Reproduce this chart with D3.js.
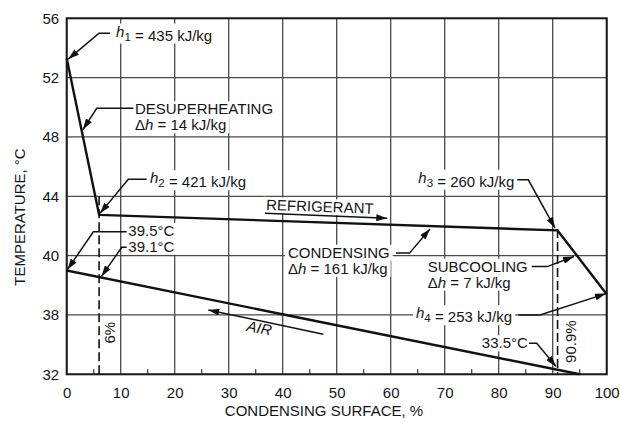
<!DOCTYPE html>
<html>
<head>
<meta charset="utf-8">
<script src="https://cdn.jsdelivr.net/npm/d3@7"></script>
<style>
  body { margin: 0; background: #fff; }
  svg text { font-family: "Liberation Sans", Arial, sans-serif; font-size: 15px; fill: #151515; }
</style>
</head>
<body>
<script>
const width = 620;
const height = 422;

// axis values
const xTicks = [0, 10, 20, 30, 40, 50, 60, 70, 80, 90, 100];
const xMinor = [5, 15, 25, 35, 45, 55, 65, 75, 85, 95];
const yTicks = [32, 38, 40, 44, 48, 52, 56];

// refrigerant temperature path (surface %, °C)
const refrigerant = [[0, 53.3], [6, 42.75], [90.9, 41.7], [100, 38.7]];
// air temperature path
const air = [[0, 39.5], [40.6, 38], [95, 32]];

// dashed markers at 6% and 90.9%
const markers = [
    { x: 6, y0: 44, y1: 32, label: "6%", lx: 9.0, ly: 36.2 },
    { x: 90.9, y0: 41.8, y1: 32, label: "90.9%", lx: 94.4, ly: 35.3 }
];

// callouts: text lines, anchor, leader (last point gets the arrowhead)
const callouts = [
    { x: 9.15, y: 54.77, lines: [[["h", "i"], ["1", "s"], [" = 435 kJ/kg"]]],
      leader: [[8.0, 55.0], [5.98, 55.0], [0.3, 53.25]] },
    { x: 12.65, y: 49.53, lines: [[["DESUPERHEATING"]], [["Δ"], ["h", "i"], [" = 14 kJ/kg"]]],
      leader: [[12.33, 49.93], [5.56, 49.93], [3.0, 48.5]] },
    { x: 15.43, y: 44.88, lines: [[["h", "i"], ["2", "s"], [" = 421 kJ/kg"]]],
      leader: [[14.81, 45.15], [11.41, 45.15], [6.17, 42.85]] },
    { x: 11.41, y: 41.34, lines: [[["39.5°C"]]],
      leader: [[11.11, 41.61], [4.93, 41.61], [0.15, 39.53]] },
    { x: 11.41, y: 40.26, lines: [[["39.1°C"]]],
      leader: [[11.11, 40.56], [10.19, 40.56], [6.44, 39.3]] },
    { x: 40.98, y: 39.93, lines: [[["CONDENSING"]], [["Δ"], ["h", "i"], [" = 161 kJ/kg"]]],
      leader: [[60.98, 40.17], [63.48, 40.17], [67.28, 41.8]] },
    { x: 82.9, y: 44.92, anchor: "end", lines: [[["h", "i"], ["3", "s"], [" = 260 kJ/kg"]]],
      leader: [[83.44, 45.11], [85.48, 45.11], [90.43, 41.86]] },
    { x: 66.85, y: 39.46, lines: [[["SUBCOOLING"]], [["Δ"], ["h", "i"], [" = 7 kJ/kg"]]],
      leader: [[86.11, 39.63], [89.0, 39.63], [93.94, 39.97]] },
    { x: 64.69, y: 37.67, lines: [[["h", "i"], ["4", "s"], [" = 253 kJ/kg"]]],
      leader: [[83.63, 38.0], [87.65, 38.0], [99.87, 38.72]] },
    { x: 85.4, y: 34.63, anchor: "end", lines: [[["33.5°C"]]],
      leader: [[85.61, 35.14], [87.04, 35.14], [90.61, 32.8]] }
];

// flow labels with direction arrows
const flows = [
    { label: "REFRIGERANT", x: 36.9, y: 43.08, anchor: "start", italic: false, rot: 2,
      arrow: [[36.72, 42.86], [59.37, 42.52]] },
    { label: "AIR", x: 35.48, y: 36.15, anchor: "middle", italic: true, rot: 11.5,
      arrow: [[47.52, 36.05], [26.22, 38.17]] }
];

const margin = { top: 18.3, right: 13.3, bottom: 47.7, left: 66.7 };
const x0 = margin.left, x1 = width - margin.right;
const y0 = height - margin.bottom, y1 = margin.top;

const svg = d3.select("body")
    .append("svg")
    .attr("width", width)
    .attr("height", height);

svg.append("defs").append("marker")
    .attr("id", "ah")
    .attr("viewBox", "0 0 11 7")
    .attr("refX", 11)
    .attr("refY", 3.5)
    .attr("markerWidth", 11)
    .attr("markerHeight", 7)
    .attr("markerUnits", "userSpaceOnUse")
    .attr("orient", "auto")
    .append("path")
    .attr("d", "M0,0L11,3.5L0,7Z")
    .attr("fill", "#111");

const x = d3.scaleLinear().domain([0, 100]).range([x0, x1]);
// gridlines are evenly spaced even though the steps are not
const y = d3.scaleLinear()
    .domain(yTicks)
    .range(yTicks.map((d, i) => y0 - i * (y0 - y1) / (yTicks.length - 1)));

const line = d3.line().x(d => x(d[0])).y(d => y(d[1]));

// grid
svg.append("g")
    .selectAll("line")
    .data(xTicks)
    .enter().append("line")
    .attr("x1", d => x(d)).attr("x2", d => x(d))
    .attr("y1", y1).attr("y2", y0)
    .attr("stroke", "#4a4a4a").attr("stroke-width", 1.3);

svg.append("g")
    .selectAll("line")
    .data(yTicks)
    .enter().append("line")
    .attr("x1", x0).attr("x2", x1)
    .attr("y1", d => y(d)).attr("y2", d => y(d))
    .attr("stroke", "#4a4a4a").attr("stroke-width", 1.3);

// minor ticks along the bottom
svg.append("g")
    .selectAll("line")
    .data(xMinor)
    .enter().append("line")
    .attr("x1", d => x(d)).attr("x2", d => x(d))
    .attr("y1", y0).attr("y2", y0 - 5)
    .attr("stroke", "#333").attr("stroke-width", 1.2);

// text sits on a white patch that breaks the grid behind it
const labels = svg.append("g");
function knockout(t) {
    const b = t.node().getBBox();
    labels.insert("rect", () => t.node())
        .attr("x", b.x - 3).attr("y", b.y + 1)
        .attr("width", b.width + 6).attr("height", b.height - 1)
        .attr("fill", "#fff")
        .attr("transform", t.attr("transform"));
}

function writeLine(t, parts) {
    parts.forEach(p => {
        const ts = t.append("tspan").text(p[0]);
        if (p[1] === "i") ts.attr("font-style", "italic");
        if (p[1] === "s") ts.attr("dy", 4).style("font-size", "11.5px");
    });
}

callouts.forEach(c => {
    c.lines.forEach((ln, i) => {
        const t = labels.append("text")
            .attr("x", x(c.x))
            .attr("y", y(c.y) + i * 16)
            .attr("text-anchor", c.anchor || "start");
        writeLine(t, ln);
        knockout(t);
    });
});

flows.forEach(f => {
    const t = labels.append("text")
        .attr("transform", `translate(${x(f.x)},${y(f.y)}) rotate(${f.rot})`)
        .attr("text-anchor", f.anchor)
        .attr("font-style", f.italic ? "italic" : "normal")
        .text(f.label);
    knockout(t);
});

markers.forEach(m => {
    labels.append("text")
        .attr("transform", `translate(${x(m.lx)},${y(m.ly)}) rotate(-90)`)
        .attr("text-anchor", "middle")
        .text(m.label);
});

svg.append("rect")
    .attr("x", x0).attr("y", y1)
    .attr("width", x1 - x0).attr("height", y0 - y1)
    .attr("fill", "none")
    .attr("stroke", "#1a1a1a")
    .attr("stroke-width", 2);

// axes labels
const xAxis = svg.append("g")
    .attr("transform", `translate(0,${y0})`)
    .call(d3.axisBottom(x).tickValues(xTicks).tickSize(0).tickPadding(13));
xAxis.select(".domain").remove();
xAxis.selectAll("text").style("font-size", "15px").attr("fill", "#151515");

const yAxis = svg.append("g")
    .attr("transform", `translate(${x0},0)`)
    .call(d3.axisLeft(y).tickValues(yTicks).tickSize(0).tickPadding(7.5));
yAxis.select(".domain").remove();
yAxis.selectAll("text").style("font-size", "15px").attr("fill", "#151515");

svg.append("text")
    .attr("x", 324).attr("y", 416)
    .attr("text-anchor", "middle")
    .text("CONDENSING SURFACE, %");

svg.append("text")
    .attr("transform", "translate(25,217) rotate(-90)")
    .attr("text-anchor", "middle")
    .text("TEMPERATURE, °C");

// dashed markers
markers.forEach(m => {
    svg.append("line")
        .attr("x1", x(m.x)).attr("x2", x(m.x))
        .attr("y1", y(m.y0)).attr("y2", y(m.y1))
        .attr("stroke", "#111").attr("stroke-width", 1.6)
        .attr("stroke-dasharray", "9,4");
});

// temperature lines
[refrigerant, air].forEach(s => {
    svg.append("path")
        .attr("d", line(s))
        .attr("fill", "none")
        .attr("stroke", "#111")
        .attr("stroke-width", 2.4)
        .attr("stroke-linejoin", "round");
});

// leaders and flow arrows
callouts.map(c => c.leader).concat(flows.map(f => f.arrow)).forEach(pts => {
    svg.append("path")
        .attr("d", line(pts))
        .attr("fill", "none")
        .attr("stroke", "#111")
        .attr("stroke-width", 1.5)
        .attr("marker-end", "url(#ah)");
});
</script>
</body>
</html>
